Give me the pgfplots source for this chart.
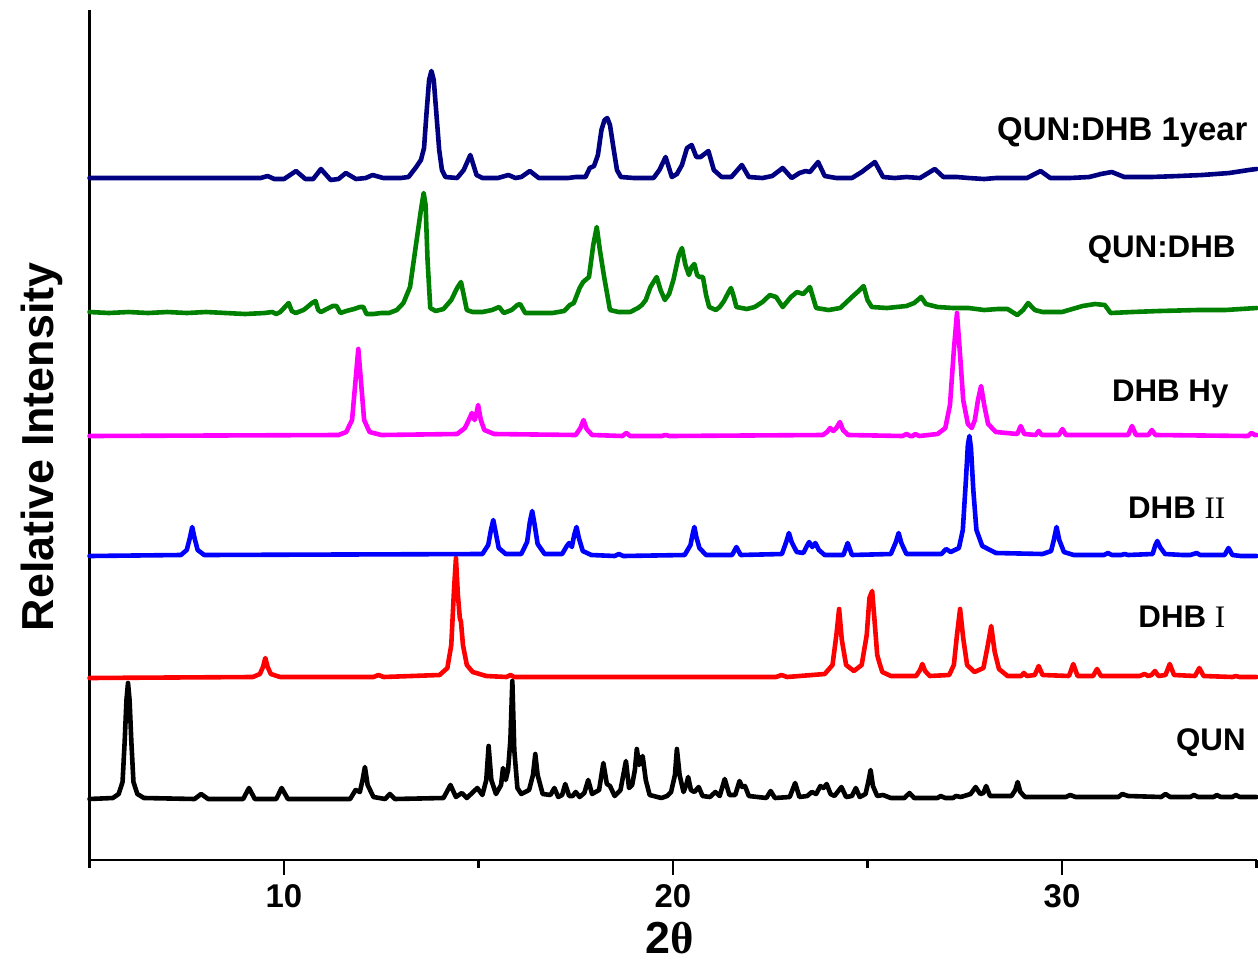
\documentclass[border=0pt]{standalone}
\usepackage{fontspec}
\setmainfont{Liberation Sans}
\newfontfamily\serif{Liberation Serif}
\usepackage{pgfplots}
\pgfplotsset{compat=1.18}
\definecolor{ogreen}{RGB}{0,128,0}
\definecolor{onavy}{RGB}{0,0,128}
\definecolor{omag}{RGB}{255,0,255}
\begin{document}
\begin{tikzpicture}
\begin{axis}[
  at={(0,0)}, anchor=south west,
  scale only axis, width=583.5bp, height=425bp,
  xmin=5, xmax=35, ymin=0, ymax=850,
  axis lines=left,
  axis line style={-, line width=1.25bp},
  xtick={10,20,30}, minor xtick={5,15,25,35},
  ytick=\empty,
  tick align=outside,
  major tick length=7.5bp, minor tick length=4bp,
  every tick/.style={black, line width=1.25bp},
  /pgf/number format/assume math mode=true,
  tick label style={font=\fontsize{16.5}{19}\selectfont\bfseries},
  xticklabel style={yshift=-1bp},
  xlabel={\textbf{2}{\serif θ}},
  xlabel style={at={([yshift=-46.5bp]axis description cs:0.4974,0)}, anchor=base, font=\fontsize{22.5}{27}\selectfont\bfseries},
  ylabel={Relative Intensity},
  ylabel style={at={([xshift=-18bp]axis description cs:0,0.486)}, anchor=base, font=\fontsize{22.5}{27}\selectfont\bfseries},
  clip=false,
  every axis plot/.append style={line width=2.3bp, line join=round, line cap=round, no marks},
]
% QUN
\addplot[black] coordinates {
(5.0,61)(5.6,62)(5.75,66)(5.85,78)(5.905,119)(5.95,160)(5.99,177)(6.03,160)(6.075,119)(6.13,78)(6.23,66)(6.4,62)
(7.7,61)(7.87,66)(8.05,61)(8.95,61)(9.10,72)(9.25,61)(9.8,61)(9.94,72)(10.1,61)
(11.7,61)(11.84,70)(11.95,68)(12.02,80)(12.08,93)(12.15,75)(12.3,63)(12.6,61)(12.72,66)(12.85,61)
(14.1,62)(14.28,75)(14.42,63)(14.57,67)(14.7,62)(14.97,72)(15.1,65)(15.2,80)(15.26,114)(15.33,80)(15.45,66)
(15.58,75)(15.63,92)(15.7,80)(15.76,90)(15.82,120)(15.87,179)(15.92,110)(16.0,72)(16.1,66)(16.3,70)(16.4,85)
(16.46,106)(16.52,85)(16.65,66)(16.85,65)(16.95,72)(17.05,63)(17.15,65)(17.23,76)(17.33,64)(17.42,64)(17.50,68)
(17.6,63)(17.72,67)(17.82,80)(17.92,66)(18.1,70)(18.21,97)(18.3,76)(18.38,74)(18.5,64)(18.65,70)(18.79,99)
(18.87,72)(18.95,75)(19.02,90)(19.07,111)(19.13,95)(19.22,104)(19.3,80)(19.4,65)(19.7,62)(19.85,64)(19.95,68)
(20.05,85)(20.10,111)(20.17,85)(20.27,68)(20.34,75)(20.39,83)(20.46,70)(20.55,68)(20.66,73)(20.76,64)(20.95,63)
(21.09,68)(21.2,64)(21.33,81)(21.45,65)(21.6,65)(21.71,79)(21.78,73)(21.85,74)(21.95,64)(22.4,62)(22.51,69)
(22.62,62)(23.0,63)(23.14,77)(23.25,63)(23.45,64)(23.57,68)(23.68,66)(23.79,74)(23.87,72)(23.95,76)(24.05,66)
(24.15,64)(24.33,73)(24.45,63)(24.60,64)(24.70,72)(24.8,63)(24.95,66)(25.02,78)(25.08,90)(25.14,74)(25.25,64)
(25.40,65)(25.6,62)(25.95,62)(26.08,67)(26.2,62)(26.8,62)(26.88,64)(27.0,62)(27.2,62)(27.27,64)(27.4,63)
(27.65,66)(27.78,73)(27.9,66)(27.98,67)(28.05,74)(28.15,64)(28.7,64)(28.8,70)(28.86,78)(28.93,68)(29.05,63)
(30.1,63)(30.21,65)(30.35,63)(31.45,63)(31.55,66)(31.7,64)(32.55,63)(32.66,66)(32.78,63)(33.3,63)(33.39,65)
(33.5,63)(33.9,63)(33.98,65)(34.08,63)(34.38,63)(34.47,65)(34.57,63)(35.0,63)
};
% DHB I
\addplot[red] coordinates {
(5.0,182)(9.2,183)(9.38,186)(9.46,193)(9.52,202)(9.58,193)(9.66,186)(9.9,183)(12.3,183)(12.43,185)(12.56,183)
(14.0,185)(14.2,192)(14.3,215)(14.37,270)(14.42,302)(14.47,265)(14.52,242)(14.55,238)(14.6,215)(14.7,195)
(14.85,188)(15.2,184)(15.72,183)(15.82,185)(15.92,183)(22.65,183)(22.79,185)(22.93,183)(23.9,186)(24.1,195)
(24.2,225)(24.27,251)(24.34,220)(24.45,195)(24.65,189)(24.85,195)(24.98,225)(25.05,262)(25.12,269)(25.18,240)
(25.25,205)(25.30,198)(25.38,188)(25.6,184)(26.25,184)(26.35,190)(26.41,196)(26.48,189)(26.6,184)(27.1,185)
(27.22,195)(27.3,225)(27.38,251)(27.46,222)(27.56,195)(27.75,188)(27.98,192)(28.08,212)(28.18,234)(28.27,208)
(28.38,191)(28.6,184)(28.95,184)(29.02,187)(29.10,184)(29.30,185)(29.40,194)(29.50,185)(30.18,184)(30.29,196)
(30.40,184)(30.80,184)(30.90,191)(31.0,184)(32.0,184)(32.12,186)(32.22,184)(32.30,185)(32.39,189)(32.48,184)
(32.66,185)(32.77,196)(32.88,185)(33.42,184)(33.53,192)(33.64,184)(34.38,183)(34.47,184)(34.56,183)(35.0,183)
};
% DHB II
\addplot[blue] coordinates {
(5.0,304)(7.35,305)(7.5,310)(7.58,322)(7.64,333)(7.70,322)(7.78,310)(7.95,305)(15.1,306)(15.25,315)(15.32,330)
(15.38,340)(15.44,328)(15.52,312)(15.7,306)(16.1,306)(16.25,318)(16.32,338)(16.38,349)(16.44,336)(16.52,316)
(16.7,306)(17.15,306)(17.27,314)(17.33,317)(17.40,313)(17.46,325)(17.52,333)(17.58,322)(17.68,309)(17.9,305)
(18.5,304)(18.61,306)(18.72,304)(20.3,305)(20.45,315)(20.50,325)(20.55,333)(20.60,323)(20.68,312)(20.85,305)
(21.52,305)(21.63,313)(21.74,305)(22.8,306)(22.91,318)(22.98,327)(23.05,318)(23.18,308)(23.35,307)(23.44,314)
(23.50,318)(23.58,313)(23.66,317)(23.75,310)(23.9,305)(24.38,305)(24.49,317)(24.60,305)(25.6,306)(25.73,318)
(25.80,327)(25.87,317)(26.0,306)(26.9,306)(27.02,311)(27.14,308)(27.35,312)(27.45,330)(27.53,380)(27.58,415)
(27.62,424)(27.66,412)(27.72,370)(27.80,330)(27.95,314)(28.3,307)(29.5,306)(29.65,308)(29.72,309)(29.79,320)
(29.86,333)(29.93,320)(30.05,308)(30.3,305)(31.08,305)(31.18,307)(31.28,305)(31.52,305)(31.61,306)(31.70,305)
(32.33,306)(32.40,315)(32.45,319)(32.52,313)(32.65,306)(33.10,305)(33.20,305)(33.30,305)(33.38,306)(33.46,307)
(33.55,305)(34.18,305)(34.28,312)(34.38,305)(34.6,304)(35.0,304)
};
% DHB Hy
\addplot[omag] coordinates {
(5.0,424)(11.4,425)(11.6,428)(11.75,440)(11.84,480)(11.91,511)(11.98,478)(12.06,440)(12.2,428)(12.5,425)
(14.45,426)(14.65,432)(14.75,440)(14.83,447)(14.90,440)(14.94,445)(14.99,455)(15.06,440)(15.15,430)(15.4,426)
(17.5,425)(17.62,432)(17.70,440)(17.78,431)(17.92,425)(18.70,424)(18.80,427)(18.90,424)(19.71,424)(19.81,425)
(19.91,424)(23.85,425)(23.96,428)(24.04,432)(24.12,429)(24.20,432)(24.29,438)(24.37,430)(24.5,425)(25.9,424)
(26.00,426)(26.10,424)(26.16,424)(26.23,426)(26.33,424)(26.8,426)(27.0,432)(27.12,455)(27.22,510)(27.30,547)
(27.38,505)(27.46,460)(27.58,436)(27.68,432)(27.76,440)(27.84,460)(27.92,474)(28.0,455)(28.1,436)(28.3,428)
(28.85,426)(28.94,434)(29.03,426)(29.32,425)(29.40,429)(29.48,425)(29.92,425)(30.01,431)(30.10,425)(31.70,425)
(31.80,434)(31.90,425)(32.22,425)(32.31,430)(32.40,425)(34.78,424)(34.87,427)(34.96,425)(35.0,425)
};
% QUN:DHB
\addplot[ogreen] coordinates {
(5.0,548)(5.5,547)(6.0,548)(6.5,547)(7.0,548)(7.5,547)(8.0,548)(8.5,547)(9.0,546)(9.5,547)(9.7,548)(9.8,546)
(9.9,548)(10.0,552)(10.12,557)(10.2,549)(10.3,547)(10.5,550)(10.6,553)(10.72,557)(10.81,559)(10.88,550)(10.95,548)
(11.1,551)(11.25,554)(11.35,554)(11.45,547)(11.6,549)(11.8,551)(11.95,553)(12.04,553)(12.12,546)(12.3,546)
(12.5,547)(12.7,547)(12.9,550)(13.07,557)(13.24,573)(13.41,620)(13.52,650)(13.59,667)(13.64,655)(13.69,600)
(13.76,552)(13.9,549)(14.1,551)(14.3,560)(14.45,572)(14.55,578)(14.62,565)(14.70,550)(14.85,548)(15.1,548)
(15.35,550)(15.53,553)(15.65,547)(15.85,550)(16.0,555)(16.07,556)(16.2,547)(16.5,547)(16.9,547)(17.2,549)
(17.35,555)(17.45,557)(17.6,572)(17.69,578)(17.84,583)(17.95,615)(18.04,633)(18.12,610)(18.23,583)(18.38,550)
(18.6,548)(18.9,548)(19.1,552)(19.20,555)(19.30,560)(19.42,573)(19.58,583)(19.68,570)(19.79,560)(19.90,566)
(20.01,580)(20.15,605)(20.23,612)(20.32,595)(20.41,585)(20.48,593)(20.55,596)(20.62,585)(20.68,583)(20.77,583)
(20.85,565)(20.93,553)(21.1,550)(21.2,553)(21.31,559)(21.43,568)(21.49,572)(21.55,565)(21.63,553)(21.9,551)
(22.1,553)(22.3,558)(22.49,565)(22.65,563)(22.82,553)(23.03,563)(23.19,568)(23.35,566)(23.52,573)(23.68,552)
(24.0,550)(24.3,552)(24.60,563)(24.80,570)(24.90,574)(25.0,560)(25.11,553)(25.5,552)(26.0,554)(26.2,557)
(26.38,563)(26.5,556)(26.8,553)(27.2,552)(27.6,552)(28.0,550)(28.35,551)(28.6,551)(28.85,545)(29.0,550)
(29.13,557)(29.3,550)(29.5,548)(30.0,548)(30.53,554)(30.85,556)(31.1,555)(31.25,547)(31.8,548)(32.5,549)
(33.5,550)(34.2,550)(35.0,552)
};
% QUN:DHB 1year
\addplot[onavy] coordinates {
(5.0,682)(9.4,682)(9.58,684)(9.75,681)(10.0,681)(10.31,689)(10.55,681)(10.75,681)(10.95,691)(11.2,680)
(11.4,681)(11.59,687)(11.85,681)(12.1,682)(12.28,685)(12.55,682)(13.0,682)(13.2,683)(13.38,692)(13.52,700)
(13.60,712)(13.66,745)(13.73,780)(13.79,789)(13.85,780)(13.92,745)(13.99,710)(14.06,690)(14.15,683)(14.45,682)
(14.62,690)(14.79,705)(14.95,685)(15.1,682)(15.5,682)(15.77,685)(15.95,682)(16.1,683)(16.32,689)(16.55,682)
(17.3,682)(17.5,683)(17.75,683)(17.86,692)(17.97,694)(18.07,705)(18.16,730)(18.24,740)(18.31,742)(18.38,735)
(18.47,712)(18.56,690)(18.66,683)(19.0,682)(19.5,682)(19.65,690)(19.81,703)(19.97,683)(20.1,686)(20.23,695)
(20.36,712)(20.48,715)(20.6,703)(20.71,703)(20.91,709)(21.05,690)(21.25,683)(21.5,683)(21.77,695)(21.95,683)
(22.3,682)(22.55,684)(22.82,692)(23.05,682)(23.25,687)(23.41,689)(23.52,688)(23.73,698)(23.9,684)(24.2,682)
(24.6,682)(24.85,688)(25.19,698)(25.4,683)(25.7,682)(26.0,683)(26.35,682)(26.73,691)(26.95,683)(27.3,683)
(27.6,682)(28.0,681)(28.3,682)(28.6,682)(29.1,682)(29.45,689)(29.7,682)(30.2,682)(30.7,683)(31.0,686)
(31.28,688)(31.6,683)(32.3,683)(33.0,684)(33.6,685)(34.3,687)(34.8,690)(35.0,691)
};
\begin{scope}[every node/.style={font=\fontsize{15.7}{19}\selectfont\bfseries, anchor=base east, inner sep=0pt}]
\node[font=\fontsize{16.5}{20}\selectfont\bfseries] at (axis cs:34.78,720) {QUN:DHB 1year};
\node at (axis cs:34.47,603) {QUN:DHB};
\node at (axis cs:34.29,459) {DHB Hy};
\node at (axis cs:34.21,342) {DHB {\mdseries\serif II}};
\node at (axis cs:34.21,233) {DHB {\mdseries\serif I}};
\node at (axis cs:34.73,110) {QUN};
\end{scope}
\end{axis}
\pgfresetboundingbox
\path[use as bounding box] (-44.75bp,-51bp) rectangle (584.25bp,430bp);
\end{tikzpicture}
\end{document}
